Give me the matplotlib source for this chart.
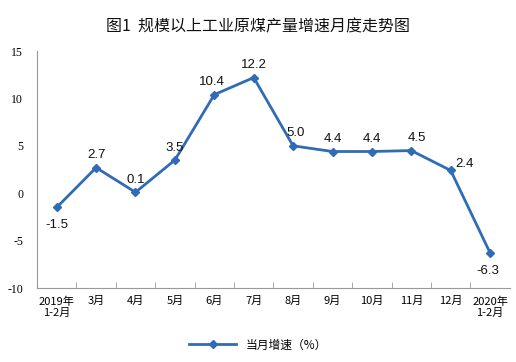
'''规模以上工业原煤产量增速月度走势图'''

import matplotlib
matplotlib.use('Agg')
import matplotlib.pyplot as plt
import numpy as np

plt.rcParams['font.family'] = ['Noto Sans CJK SC', 'DejaVu Sans']

# data
months = ['2019年\n1-2月', '3月', '4月', '5月', '6月', '7月', '8月', '9月',
          '10月', '11月', '12月', '2020年\n1-2月']
growth = [-1.5, 2.7, 0.1, 3.5, 10.4, 12.2, 5.0, 4.4, 4.4, 4.5, 2.4, -6.3]
label_offsets = [(0, -13), (0, 9), (0, 9), (0, 9), (-2, 9), (0, 9),
                 (2, 9), (0, 9), (0, 9), (4, 9), (10, 5), (-2, -13)]

fig = plt.figure(figsize=(5.16, 3.62), dpi=100)
ax = fig.add_axes([0.0717, 0.2044, 0.9163, 0.6546])

x = np.arange(len(months))
line_color = '#2F6CB5'
ax.plot(x, growth, color=line_color, lw=2, marker='D', ms=4.5,
        label='当月增速（%）')

for xi, v, off in zip(x, growth, label_offsets):
    ax.annotate(f'{v:.1f}', (xi, v), xytext=off, textcoords='offset points',
                ha='center', va='center', fontsize=9.5,
                family=['Liberation Sans', 'DejaVu Sans'], color='#111111')

ax.set_xlim(-0.5, 11.5)
ax.set_ylim(-10, 15)
ax.set_yticks(range(-10, 16, 5))
ax.set_yticklabels([str(v) for v in range(-10, 16, 5)],
                   family=['Liberation Serif'], fontsize=8.5)
ax.set_xticks(x)
ax.set_xticklabels(months, fontsize=8, linespacing=1.1)
ax.set_xticks(np.arange(0.5, 11.5, 1), minor=True)
ax.tick_params(axis='x', which='major', length=0, pad=6)
ax.tick_params(axis='x', which='minor', length=4, direction='in', color='#999999')
ax.tick_params(axis='y', length=0, pad=10)

for s in ['top', 'right']:
    ax.spines[s].set_visible(False)
for s in ['left', 'bottom']:
    ax.spines[s].set_color('#999999')
    ax.spines[s].set_linewidth(0.8)

fig.suptitle('图1  规模以上工业原煤产量增速月度走势图', x=0.5, y=0.95,
             fontsize=11.5, color='#111111')

fig.legend(loc='lower center', bbox_to_anchor=(0.5, 0.0), frameon=False,
           fontsize=8.5, handlelength=4)

fig.savefig('out.png', dpi=100)
